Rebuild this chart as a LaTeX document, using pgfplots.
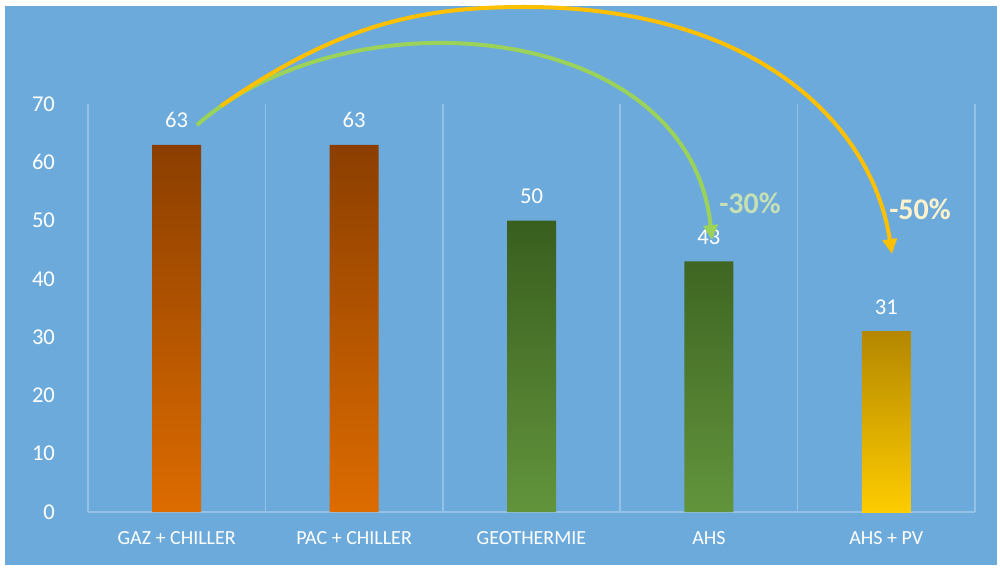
\documentclass[border=0pt]{standalone}
\usepackage{fontspec}
\setmainfont{Carlito}
\usepackage{pgfplots}
\pgfplotsset{compat=1.18}
\usetikzlibrary{arrows.meta}
\definecolor{bgblue}{RGB}{108,170,219}
\definecolor{gridblue}{RGB}{150,193,230}
\definecolor{orangeT}{RGB}{139,62,0}
\definecolor{orangeB}{RGB}{221,108,0}
\definecolor{greenT}{RGB}{57,94,30}
\definecolor{greenB}{RGB}{98,148,60}
\definecolor{goldT}{RGB}{180,135,0}
\definecolor{goldB}{RGB}{254,204,0}
\definecolor{arrgreen}{RGB}{155,210,90}
\definecolor{arryellow}{RGB}{255,192,0}
\definecolor{pctgreen}{RGB}{197,224,180}
\definecolor{pctyellow}{RGB}{255,242,204}

\begin{document}
\begin{tikzpicture}
% background, in pixels of the reference (1px = 0.5pt)
\begin{scope}[x=0.5pt,y=-0.5pt,shift={(-44pt,256pt)}]
  \fill[white] (0,0) rectangle (1000,567);
  \fill[bgblue] (5,6) rectangle (997,565);
\end{scope}

\begin{axis}[
    at={(0,0)}, anchor=south west,
    scale only axis,
    width=443.5pt, height=204pt,
    xmin=-0.5, xmax=4.5,
    ymin=0, ymax=70,
    ytick={0,10,...,70},
    xtick={0,...,4},
    xticklabels={GAZ + CHILLER, PAC + CHILLER, GEOTHERMIE, AHS, AHS + PV},
    minor xtick={-0.5,0.5,...,4.5},
    xminorgrids,
    minor grid style={draw=gridblue, line width=0.75pt},
    major tick length=0pt, minor tick length=0pt,
    axis x line*=bottom, axis y line*=left,
    x axis line style={draw=gridblue, line width=0.75pt, -},
    y axis line style={draw=none},
    tick style={draw=none},
    ticklabel style={text=white},
    yticklabel style={font=\fontsize{11.3}{13}\selectfont, xshift=-13pt},
    xticklabel style={font=\fontsize{10}{12}\selectfont, yshift=-6pt},
    /pgf/number format/assume math mode=true,
    clip=false,
    ybar, bar width=24.5pt, bar shift=0pt,
    nodes near coords,
    nodes near coords style={text=white, font=\fontsize{11.3}{13}\selectfont, yshift=5pt},
]
\addplot[draw=none, top color=orangeT, bottom color=orangeB] coordinates {(0,63) (1,63)};
\addplot[draw=none, top color=greenT, bottom color=greenB] coordinates {(2,50) (3,43)};
\addplot[draw=none, top color=goldT, bottom color=goldB] coordinates {(4,31)};
\end{axis}

% annotation arrows (overlay: their control points stay out of the bounding box)
\begin{scope}[x=0.5pt,y=-0.5pt,shift={(-44pt,256pt)}]
  \draw[overlay, arrgreen, line width=2pt, -{Triangle[width=7pt,length=7.5pt]}]
    (197,125) .. controls (350,-10) and (690,20) .. (712,240);
  \draw[overlay, arryellow, line width=2pt, -{Triangle[width=7pt,length=7.5pt]}]
    (221,106) .. controls (341,22) and (425,7) .. (525,7)
              .. controls (755,7) and (872,123) .. (892,254);
  \node[text=pctgreen, font=\bfseries\fontsize{15}{18}\selectfont] at (750,203) {-30\%};
  \node[text=pctyellow, font=\bfseries\fontsize{15}{18}\selectfont] at (920,209) {-50\%};
\end{scope}
\end{tikzpicture}
\end{document}
